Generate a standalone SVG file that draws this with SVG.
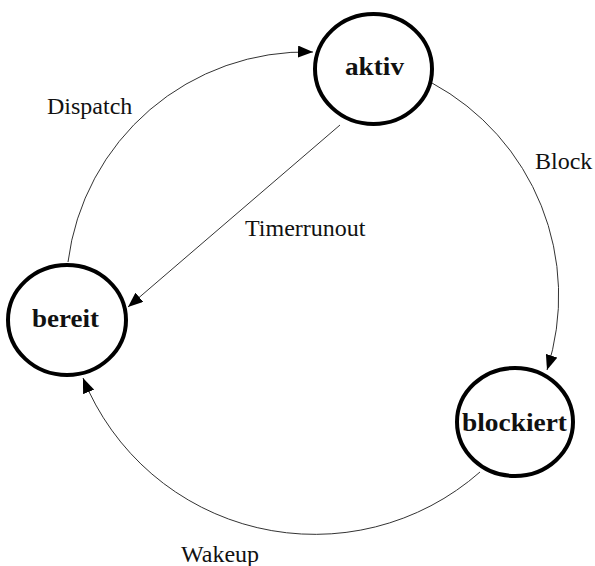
<svg xmlns="http://www.w3.org/2000/svg" width="595" height="566" viewBox="0 0 595 566">
<style>
.node{fill:#fff;stroke:#000;stroke-width:4}
.nl{font-family:"Liberation Serif",serif;font-weight:bold;font-size:25px;fill:#111;text-anchor:middle}
.el{font-family:"Liberation Serif",serif;font-size:24px;fill:#111}
.edge{fill:none;stroke:#333;stroke-width:1}
</style>
<defs>
<marker id="arr" markerUnits="userSpaceOnUse" markerWidth="16" markerHeight="12" refX="15" refY="6" orient="auto">
<path d="M0,0 L15,6 L0,12 Z" fill="#000"/>
</marker>
</defs>
<rect width="595" height="566" fill="#fff"/>
<g id="connectors">
<path class="edge" d="M68,262 A240,240 0 0,1 313,52" marker-end="url(#arr)"/>
<path class="edge" d="M432,83 A242,242 0 0,1 547,370" marker-end="url(#arr)"/>
<path class="edge" d="M480,472 A250,250 0 0,1 83,378" marker-end="url(#arr)"/>
<path class="edge" d="M340,125 L128,307" marker-end="url(#arr)"/>
<text class="el" x="47" y="114">Dispatch</text>
<text class="el" x="535" y="169">Block</text>
<text class="el" x="245" y="236">Timerrunout</text>
<text class="el" x="181" y="562">Wakeup</text>
</g>
<g id="aktiv">
<ellipse class="node" cx="373.5" cy="69" rx="58.5" ry="55"/>
<text class="nl" x="374.5" y="75" textLength="59" lengthAdjust="spacingAndGlyphs">aktiv</text>
</g>
<g id="bereit">
<ellipse class="node" cx="67" cy="320" rx="59" ry="55"/>
<text class="nl" x="65.5" y="327" textLength="67" lengthAdjust="spacingAndGlyphs">bereit</text>
</g>
<g id="blockiert">
<ellipse class="node" cx="515" cy="422" rx="58" ry="54"/>
<text class="nl" x="514.5" y="431" textLength="105" lengthAdjust="spacingAndGlyphs">blockiert</text>
</g>
</svg>
